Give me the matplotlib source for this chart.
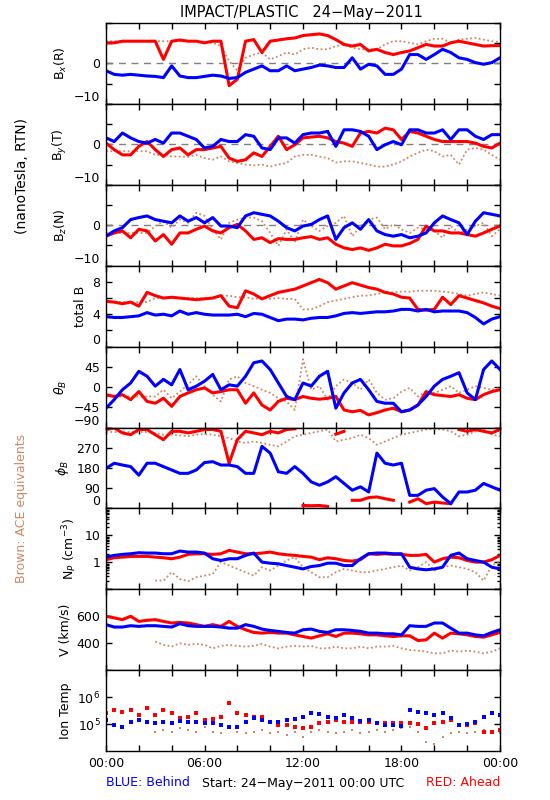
import numpy as np
import matplotlib
matplotlib.use('Agg')
import matplotlib.pyplot as plt
from matplotlib.ticker import FixedLocator, NullLocator, LogLocator, NullFormatter

# half-hourly samples, 24-May-2011
hours = np.arange(0, 24.5, 0.5)
nan = np.nan

# B_x (R), nT
bx_ahead = [5.1, 5.1, 5.5, 5.5, 5.5, 5.5, 5.5, 1.0, 5.5, 5.8, 5.5, 5.5, 5.1, 5.5, 5.5, -5.5, -3.9, 5.5, 5.9, 2.7,
            5.5, 5.8, 6.1, 6.3, 6.9, 7.1, 7.3, 6.9, 5.9, 4.7, 4.3, 4.7, 3.1, 3.5, 2.7, 2.2, 2.7, 3.1, 3.9, 4.7,
            4.3, 4.3, 5.1, 5.5, 5.1, 4.7, 4.3, 4.4, 4.4]
bx_behind = [-1.8, -2.7, -2.9, -2.7, -2.9, -3.1, -3.2, -3.5, -0.6, -3.1, -3.5, -3.5, -3.2, -2.9, -3.1, -3.7, -3.5,
             -2.2, -1.4, -0.6, -1.8, -1.8, -0.6, -1.8, -1.4, -1.0, -0.4, -0.6, -1.0, -1.0, 1.4, -1.4, -0.2, -0.6,
             -2.7, -2.7, -1.4, 2.2, 2.2, 1.0, 2.2, 3.5, 2.7, 1.4, 1.0, 0.2, -0.2, 0.2, 1.4]
bx_ace = [5.5, 5.5, 5.5, 5.5, 5.5, 5.5, 5.5, 5.5, 5.5, 5.5, 5.5, 5.5, 5.1, 5.1, 4.3, 0.6, -1.8, 1.4, 2.2, 2.7,
          1.0, 1.8, 2.7, 2.2, 3.5, 3.9, 3.5, 3.5, 4.3, 4.7, 3.9, 3.5, 3.5, 3.5, 4.7, 5.5, 5.5, 5.1, 4.7, 5.5,
          6.1, 6.1, 5.1, 5.9, 6.1, 6.3, 5.9, 5.5, 5.3]

# B_y (T), nT
by_ahead = [0.3, -1.3, -2.6, -2.6, -0.5, 0.7, -1.3, -3.0, -1.3, -0.9, -2.6, -1.3, -1.3, -0.9, -0.5, -3.4, -4.2,
            -3.8, -2.1, -3.0, -0.5, 2.0, -1.3, -0.1, 1.6, 1.8, 2.0, 1.6, 0.7, 0.3, -0.5, 2.8, 3.2, 2.8, 4.0, 3.6,
            1.2, 3.2, 2.8, 2.0, 1.2, 0.7, 0.7, 0.7, 0.7, 0.3, -0.5, -0.9, 0.3]
by_behind = [1.6, 0.7, 2.8, 1.6, 0.7, 0.3, 1.2, 0.3, 2.8, 2.8, 2.0, 1.2, -0.9, -0.5, 1.2, 0.7, 0.7, 2.4, 2.0, -0.9,
             -1.3, 1.6, 1.6, 0.3, 2.4, 2.8, 2.8, 3.2, -0.5, 3.6, 3.6, 3.2, 2.0, -1.3, -0.1, 0.7, -0.1, 3.6, 3.6,
             2.8, 2.8, 3.6, 1.2, 3.6, 3.6, 2.0, 1.2, 2.4, 2.4]
by_ace = [-1.7, -1.7, -1.7, -1.7, -1.7, -1.7, -2.6, -2.6, -3.0, -3.0, -3.1, -2.6, -3.4, -3.8, -3.0, -4.2, -4.6,
          -5.0, -5.2, -5.0, -5.5, -5.0, -4.6, -3.0, -2.6, -2.6, -3.0, -3.4, -4.5, -4.2, -4.2, -4.6, -5.0, -5.5,
          -5.5, -5.0, -4.2, -3.0, -2.1, -1.3, -1.7, -3.0, -2.6, -5.0, -1.3, -0.9, -1.3, -2.6, -3.8]

# B_z (N), nT
bz_ahead = [-2.7, -1.9, -1.4, -3.1, -1.0, -1.4, -3.9, -2.3, -4.7, -1.9, -1.9, -1.0, -0.2, -1.4, -1.9, -0.6, 0.2,
            -1.4, -3.5, -3.1, -4.3, -3.3, -3.5, -3.5, -3.1, -2.8, -3.5, -3.1, -4.7, -5.6, -6.0, -5.6, -6.2, -5.6,
            -4.7, -5.1, -5.1, -4.5, -3.5, -0.2, -1.4, -1.4, -1.9, -1.9, -2.3, -2.7, -1.9, -1.0, -0.2]
bz_behind = [-2.7, -1.4, -0.6, 1.4, 1.9, 2.3, 1.4, 1.0, 0.6, 2.3, 1.0, 1.9, 0.6, 1.9, -0.2, -0.2, -0.6, 2.3, 3.1,
             2.7, 2.3, 1.0, -0.6, -1.4, -0.2, 0.2, 1.4, 2.3, -3.5, -0.6, 0.6, -1.0, 1.4, -1.4, -2.3, -2.7, -2.3,
             -3.1, -2.7, -1.9, 0.6, 2.3, 1.4, 0.6, -2.3, 1.0, 3.1, 2.7, 2.3]
bz_ace = [-1.9, -1.9, -1.9, -1.9, -1.9, -1.9, -0.2, 1.0, -0.6, 1.4, 0.6, 3.1, 2.3, -1.0, -3.5, 0.6, 1.4, 1.9, 1.9,
          1.0, -1.9, -5.1, -1.0, -4.3, 1.4, -0.2, -1.4, -0.2, 0.6, 2.3, -2.7, -0.2, 1.4, 1.9, -1.0, 0.2, -1.0,
          -1.9, -0.6, -1.0, -1.4, -3.1, -0.2, -1.9, -1.0, -0.2, 0.6, -2.7, -1.0]

# |B|, nT
btot_ahead = [5.6, 5.5, 5.3, 5.5, 5.0, 6.7, 6.3, 6.0, 6.1, 6.0, 5.9, 5.8, 5.9, 6.0, 6.3, 5.0, 4.8, 6.9, 6.5, 5.9,
              6.3, 6.7, 6.9, 7.1, 7.5, 7.9, 8.3, 7.9, 7.1, 7.5, 7.9, 7.6, 7.3, 7.1, 6.7, 6.5, 6.1, 6.0, 4.6, 4.5,
              4.6, 6.1, 5.2, 6.3, 6.0, 5.7, 5.4, 5.0, 4.7]
btot_behind = [3.7, 3.6, 3.6, 3.7, 3.8, 4.2, 3.9, 4.0, 3.8, 4.4, 4.0, 4.2, 4.0, 3.9, 3.9, 3.9, 4.0, 3.7, 4.1, 4.0,
               3.6, 3.2, 3.4, 3.4, 3.3, 3.5, 3.6, 3.6, 3.8, 4.1, 4.2, 4.1, 4.2, 4.3, 4.3, 4.4, 4.6, 4.6, 4.4, 4.6,
               4.3, 4.4, 4.4, 4.4, 4.2, 3.6, 2.8, 3.4, 3.7]
btot_ace = [5.5, 5.5, 5.5, 5.5, 5.5, 5.5, 6.0, 6.0, 6.0, 6.0, 6.0, 6.0, 6.0, 6.0, 6.3, 6.3, 6.1, 6.1, 5.9, 6.0,
            5.9, 6.0, 5.9, 5.9, 4.6, 4.6, 5.0, 5.5, 5.7, 5.9, 6.1, 6.3, 6.3, 6.5, 6.7, 6.7, 6.8, 6.8, 6.9, 6.9,
            6.9, 6.8, 6.7, 6.5, 6.3, 6.5, 6.7, 6.5, 6.3]

# theta_B, deg
theta_ahead = [-17, -21, -17, -28, -10, -32, -36, -25, -43, -21, -13, -6, -2, -13, -10, -6, -6, -36, -13, -40,
               -51, -32, -25, -28, -21, -25, -27, -25, -21, -51, -55, -52, -62, -57, -51, -47, -55, -51, -40, -10,
               -17, -19, -21, -17, -25, -28, -17, -10, -6]
theta_behind = [-47, -28, -6, 9, 35, 24, 2, 17, 5, 39, -6, 2, 13, 28, -6, 5, 2, 24, 54, 58, 39, 9, -21, -28, 9,
                2, 24, 35, -47, -13, 9, 17, -6, -32, -36, -36, -55, -51, -40, -21, 2, 17, 24, 32, -13, -28, 39,
                58, 39]
theta_ace = [-21, -21, -21, -21, -21, -21, -21, -6, -25, -10, 5, 24, 2, -17, -32, 17, 24, 9, 2, -6, -13, -25,
             -32, -51, 62, -6, 2, -28, 2, 17, 9, -6, 17, -13, -28, -25, -10, -2, -21, -10, -13, -6, 2, -13, -6,
             2, -2, -6, -2]

# phi_B, deg
phi_ahead = [351, 358, 336, 328, 351, 351, 328, 306, 343, 343, 336, 343, 351, 351, 343, 201, 306, 343, 336, 328,
             343, 336, 351, 354, 13, 12, 13, 9, 330, 343, 36, 36, 48, 51, 43, 36, 358, 28, 43, 21, 28, 24, 21,
             351, 343, 351, 343, 336, 351]
phi_behind = [178, 201, 193, 186, 148, 201, 201, 186, 171, 156, 156, 171, 204, 208, 193, 193, 186, 156, 156, 276,
              246, 163, 156, 186, 156, 118, 103, 118, 141, 111, 81, 96, 73, 246, 201, 193, 201, 58, 58, 81, 88,
              51, 21, 73, 73, 81, 111, 96, 81]
phi_ace = [340, 340, 340, 340, 340, 340, 336, 328, 328, 325, 321, 328, 331, 328, 321, 313, 298, 291, 298, 291,
           283, 276, 298, 321, 328, 336, 343, 351, 298, 306, 313, 328, 313, 283, 298, 313, 328, 336, 343, 351,
           354, 351, 343, 321, 328, 343, 351, 328, 321]

# proton density, cm^-3
np_ahead = [1.25, 1.48, 1.56, 1.66, 1.66, 1.66, 1.56, 1.48, 1.36, 1.56, 1.97, 2.08, 2.08, 1.97, 2.08, 2.78, 2.40,
            2.08, 2.08, 2.21, 2.40, 2.08, 1.91, 1.81, 1.66, 1.56, 1.25, 1.48, 1.36, 1.17, 1.11, 1.25, 2.08, 1.97,
            2.08, 1.97, 1.97, 1.81, 1.81, 1.97, 1.02, 1.36, 1.56, 1.48, 1.17, 1.02, 1.02, 1.25, 1.81]
np_behind = [1.56, 1.81, 1.97, 2.08, 2.27, 2.21, 2.21, 2.08, 2.08, 2.62, 2.40, 2.40, 2.21, 1.36, 1.17, 1.36, 1.36,
             1.81, 2.21, 1.02, 0.93, 0.88, 0.76, 0.66, 0.57, 0.70, 0.76, 0.93, 0.93, 0.76, 0.76, 1.36, 2.08, 2.21,
             2.21, 2.08, 2.08, 0.66, 0.57, 0.53, 0.57, 0.66, 1.81, 2.21, 1.36, 1.17, 1.02, 0.66, 0.57]
np_ace = [nan, nan, nan, nan, nan, nan, 0.21, 0.21, 0.43, 0.24, 0.20, 0.28, 0.32, 0.37, 1.02, 0.76, 0.57, 0.43,
          0.32, 0.66, 0.50, 0.76, 1.17, 1.56, 0.66, 0.43, 0.28, 0.28, 0.43, 0.57, 0.50, 0.43, 0.43, 0.50, 0.57,
          0.66, 0.76, 0.50, 0.66, 1.02, 0.50, 0.66, 0.76, 0.66, 0.57, 0.43, 0.21, 0.76, 1.17]

# bulk speed, km/s
v_ahead = [600, 588, 575, 600, 562, 570, 575, 562, 550, 555, 550, 538, 525, 538, 525, 562, 525, 500, 480, 475,
           480, 475, 475, 462, 450, 438, 455, 470, 450, 475, 475, 470, 462, 462, 455, 450, 455, 455, 420, 425,
           475, 438, 475, 470, 462, 450, 445, 462, 480]
v_behind = [538, 520, 520, 530, 525, 530, 530, 525, 520, 545, 530, 525, 525, 525, 520, 512, 512, 538, 525, 505,
            495, 488, 480, 475, 500, 505, 488, 480, 500, 500, 495, 488, 475, 475, 470, 470, 462, 530, 525, 525,
            550, 550, 512, 475, 475, 462, 455, 480, 500]
v_ace = [nan, nan, nan, nan, nan, nan, 412, 388, 375, 400, 388, 395, 388, 362, 380, 388, 380, 375, 380, 395, 375,
         362, 375, 380, 375, 380, 362, 362, 375, 362, 362, 375, 362, 375, 375, 380, 362, 350, 345, 338, 325, 325,
         345, 338, 345, 338, 325, 338, 362]

# proton temperature, K
t_ahead = [2.5e5, 3.35e5, 2.9e5, 3.35e5, 2.18e5, 3.9e5, 2.18e5, 3.35e5, 2.5e5, 1.63e5, 1.88e5, 2.5e5, 1.41e5,
           1.5e5, 1.88e5, 5.96e5, 2.5e5, 2.18e5, 1.88e5, 1.78e5, 1.22e5, 9.2e4, 9.2e4, 7.9e4, 6.9e4, 7.9e4,
           1.06e5, 1.22e5, 1.41e5, 1.22e5, 1.22e5, 1.22e5, 1.22e5, 1.12e5, 1.12e5, 1.12e5, 1.06e5, 1.06e5,
           1.0e5, 6.9e4, 1.06e5, 1.22e5, 1.41e5, 9.2e4, 9.2e4, 1.06e5, 5.2e4, 5.2e4, 6.0e4]
t_behind = [1.41e5, 9.2e4, 7.9e4, 1.22e5, 1.41e5, 1.22e5, 1.06e5, 1.22e5, 1.06e5, 1.3e5, 1.22e5, 1.22e5, 1.06e5,
            1.12e5, 9.2e4, 7.9e4, 7.9e4, 1.22e5, 1.63e5, 1.41e5, 1.22e5, 1.22e5, 1.41e5, 1.5e5, 1.88e5, 2.5e5,
            2.37e5, 1.88e5, 1.63e5, 2.18e5, 1.63e5, 1.3e5, 1.41e5, 1.06e5, 9.2e4, 9.2e4, 8.4e4, 3.35e5, 2.9e5,
            2.5e5, 2.18e5, 2.5e5, 1.63e5, 9.2e4, 1.0e5, 1.22e5, 1.88e5, 2.5e5, 2.18e5]
t_ace = [nan, nan, nan, nan, nan, nan, 5.2e4, 6.0e4, 5.2e4, 6.9e4, 6.0e4, 5.2e4, 7.9e4, 5.2e4, 4.5e4, 7.9e4,
         5.2e4, 4.5e4, 5.2e4, 6.0e4, 4.5e4, 5.2e4, 3.9e4, 5.2e4, 3.35e4, 5.2e4, 6.0e4, 5.2e4, 4.5e4, 5.2e4,
         6.0e4, 4.5e4, 5.2e4, 6.0e4, 5.2e4, 6.0e4, 6.9e4, 7.9e4, 5.2e4, 2.2e4, 1.9e4, 3.35e4, 4.5e4, 5.2e4,
         4.5e4, 5.2e4, 6.0e4, 5.2e4, 4.5e4]

BLUE = '#0000FF'
RED = '#FF0000'
BROWN = '#CC8866'
FS = 9


def break_wraps(t, y):
    # don't draw a line straight across the panel when phi wraps 360 -> 0
    t = np.asarray(t, float)
    y = np.asarray(y, float)
    idx = np.where(np.abs(np.diff(y)) > 180)[0] + 1
    return np.insert(t, idx, nan), np.insert(y, idx, nan)


def draw_series(ax, ace, ahead, behind, wrap=False, dots=False):
    series = [(ace, BROWN), (ahead, RED), (behind, BLUE)]
    for vals, col in series:
        t, y = (break_wraps(hours, vals) if wrap else (hours, np.asarray(vals, float)))
        if dots:
            if col == BROWN:
                ax.plot(t, y, ls='none', marker='s', ms=1.8, mew=0, color=col)
            else:
                ax.plot(t, y, ls='none', marker='s', ms=2.8, mew=0, color=col)
        elif col == BROWN:
            ax.plot(t, y, ls=(0, (1, 1.4)), lw=1.3, color=col)
        else:
            ax.plot(t, y, ls='-', lw=2.2, marker='s', ms=2.0, mew=0, color=col)


def set_yticks(ax, ticks, labels):
    ax.yaxis.set_major_locator(FixedLocator(ticks))
    ax.set_yticklabels(labels)
    # IDL nudges the lowest label up so it stays inside the panel
    ax.get_yticklabels()[0].set_verticalalignment('bottom')


def main():
    fig = plt.figure(figsize=(5.5, 8), dpi=100)
    left, width = 106 / 550, 394 / 550
    top0, ph = 23 / 800, 80.9 / 800
    axes = []
    for k in range(9):
        ax = fig.add_axes([left, 1 - top0 - (k + 1) * ph, width, ph])
        ax.set_xlim(0, 24)
        ax.xaxis.set_major_locator(FixedLocator(np.arange(0, 25, 2)))
        ax.tick_params(axis='both', which='both', direction='in', top=True, right=True,
                       length=4, width=1, labelsize=FS, pad=4)
        ax.tick_params(which='minor', length=2.5)
        for s in ax.spines.values():
            s.set_linewidth(1)
        ax.set_xticklabels([])
        axes.append(ax)

    ylab = ['B$_x$(R)', 'B$_y$(T)', 'B$_z$(N)', 'total B', r'$\theta_B$', r'$\phi_B$',
            'N$_P$ (cm$^{-3}$)', 'V (km/s)', 'Ion Temp']

    comps = [(bx_ace, bx_ahead, bx_behind), (by_ace, by_ahead, by_behind), (bz_ace, bz_ahead, bz_behind)]
    for ax, (ace, ah, be) in zip(axes[:3], comps):
        ax.axhline(0, color='#808080', lw=1, ls=(0, (5, 4)))
        draw_series(ax, ace, ah, be)
        ax.set_ylim(-10, 10)
        set_yticks(ax, [-10, -5, 0, 5, 10], ['\u221210', '', '0', '', ''])

    ax = axes[3]
    draw_series(ax, btot_ace, btot_ahead, btot_behind)
    ax.set_ylim(0, 10)
    set_yticks(ax, [0, 2, 4, 6, 8, 10], ['0', '', '4', '', '8', ''])

    ax = axes[4]
    draw_series(ax, theta_ace, theta_ahead, theta_behind)
    ax.set_ylim(-90, 90)
    set_yticks(ax, [-90, -45, 0, 45, 90], ['\u221290', '\u221245', '0', '45', ''])

    ax = axes[5]
    draw_series(ax, phi_ace, phi_ahead, phi_behind, wrap=True)
    ax.set_ylim(0, 360)
    set_yticks(ax, [0, 90, 180, 270, 360], ['0', '90', '180', '270', ''])

    ax = axes[6]
    ax.set_yscale('log')
    draw_series(ax, np_ace, np_ahead, np_behind)
    ax.set_ylim(0.1, 100)
    ax.yaxis.set_major_locator(FixedLocator([0.1, 1, 10, 100]))
    ax.set_yticklabels(['', '1', '10', ''])
    ax.yaxis.set_minor_locator(LogLocator(base=10, subs=np.arange(2, 10)))
    ax.yaxis.set_minor_formatter(NullFormatter())

    ax = axes[7]
    draw_series(ax, v_ace, v_ahead, v_behind)
    ax.set_ylim(200, 800)
    ax.yaxis.set_major_locator(FixedLocator([200, 400, 600, 800]))
    ax.set_yticklabels(['', '400', '600', ''])

    ax = axes[8]
    ax.set_yscale('log')
    draw_series(ax, t_ace, t_ahead, t_behind, dots=True)
    ax.set_ylim(1e4, 1e7)
    ax.yaxis.set_major_locator(FixedLocator([1e5, 1e6]))
    ax.set_yticklabels(['10$^5$', '10$^6$'])
    ax.yaxis.set_minor_locator(NullLocator())

    for ax, lab in zip(axes, ylab):
        ax.set_ylabel(lab, fontsize=FS, labelpad=4)

    xlabels = ['00:00' if h in (0, 24) else ('%02d:00' % h if h % 6 == 0 else '') for h in range(0, 25, 2)]
    axes[-1].set_xticklabels(xlabels)

    fig.text(0.548, 1 - 12 / 800, 'IMPACT/PLASTIC   24\u2212May\u22122011', ha='center', va='center', fontsize=10.5)
    fig.text(22 / 550, 1 - 176 / 800, '(nanoTesla, RTN)', rotation=90, ha='center', va='center', fontsize=10)
    fig.text(22 / 550, 1 - 508 / 800, 'Brown: ACE equivalents', rotation=90, ha='center', va='center',
             fontsize=FS, color=BROWN)
    fig.text(106 / 550, 1 - 783 / 800, 'BLUE: Behind', ha='left', va='center', fontsize=FS, color=BLUE)
    fig.text(303 / 550, 1 - 783 / 800, 'Start: 24\u2212May\u22122011 00:00 UTC', ha='center', va='center',
             fontsize=FS)
    fig.text(500 / 550, 1 - 783 / 800, 'RED: Ahead', ha='right', va='center', fontsize=FS, color=RED)

    fig.savefig('out.png', dpi=100)


if __name__ == "__main__":
    main()
